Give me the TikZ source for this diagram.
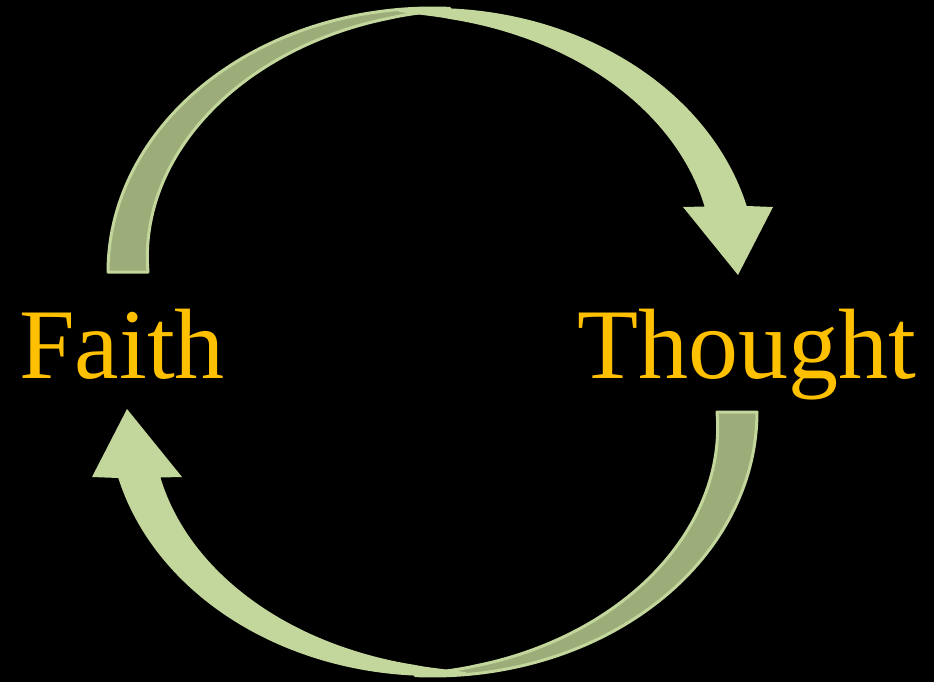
\documentclass[tikz,border=0pt]{standalone}
\usepackage{fontspec}
\setmainfont{Liberation Serif}
\usepackage{tikz}
\definecolor{leaf}{HTML}{C3D69B}
\definecolor{leafdark}{HTML}{9CAD7A}
\definecolor{gold}{HTML}{FFC000}

\begin{document}
\begin{tikzpicture}[
    x=1pt, y=-1pt,
    word/.style={text=gold, font=\fontsize{100}{100}\selectfont, inner sep=0pt, anchor=base west},
    backpart/.style={fill=leafdark, draw=leaf, line width=3pt, line join=round},
    frontpart/.style={fill=leaf},
    declare function={
        wf(\t)=40*((97-\t)/80)^0.65;
        wb(\t)=40*((\t-86)/94)^0.8;
    },
]
% canvas
\fill[black] (0,0) rectangle (934,682);
\useasboundingbox (0,0) rectangle (934,682);

% ---------------- the two ribbon arrows (second one turned by 180) ----------------
\foreach \ang in {0,180} {
\begin{scope}[rotate around={\ang:(432.5,342)}]
  % back side of the ribbon, narrowing towards the top
  \filldraw[backpart]
      plot[domain=180:87, samples=70] ({432.5+324.5*cos(\x)}, {272-264*sin(\x)})
      -- plot[domain=87:180, samples=70] ({432.5+(324.5-wb(\x))*cos(\x)}, {272-(264-wb(\x))*sin(\x)})
      -- cycle;
  % front side of the ribbon with its head
  \fill[frontpart]
      plot[domain=96:14.48, samples=70] ({432.5+324.5*cos(\x)}, {272-264*sin(\x)})
      -- (773,207) -- (738,275) -- (683,207)
      -- plot[domain=17:96, samples=70] ({432.5+(324.5-wf(\x))*cos(\x)}, {272-(264-wf(\x))*sin(\x)})
      -- cycle;
\end{scope}
}

% ---------------- words ----------------
\node[word] (faith) at (19,378) {Faith};
\node[word] (thought) at (577,378) {Thought};
\end{tikzpicture}
\end{document}
